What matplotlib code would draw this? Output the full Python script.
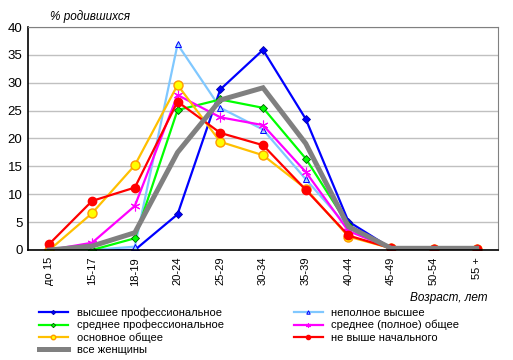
import numpy as np
import matplotlib.pyplot as plt

ages = ['до 15', '15-17', '18-19', '20-24', '25-29', '30-34',
        '35-39', '40-44', '45-49', '50-54', '55 +']

higher_prof = [0, 0, 0, 6.4, 28.8, 35.9, 23.5, 5.1, 0.3, 0.1, 0.1]
incomplete_higher = [0, 0, 0.6, 36.9, 25.5, 21.6, 12.7, 4.0, 0.3, 0.1, 0.1]
secondary_prof = [0, 0, 2.1, 25.1, 27.0, 25.5, 16.4, 4.4, 0.3, 0.1, 0.1]
secondary_full = [0, 1.3, 7.9, 27.8, 23.8, 22.4, 14.0, 3.4, 0.3, 0.1, 0.1]
basic_general = [0, 6.6, 15.2, 29.6, 19.4, 17.0, 11.0, 2.4, 0.3, 0.1, 0.1]
primary_or_less = [1.1, 8.8, 11.2, 26.6, 21.0, 18.8, 10.8, 2.6, 0.3, 0.1, 0.1]
all_women = [0, 0.7, 3.1, 17.5, 26.9, 29.1, 19.1, 4.2, 0.3, 0.3, 0.3]

if __name__ == '__main__':
    plt.rcParams['font.family'] = ['Liberation Sans', 'DejaVu Sans']
    fig = plt.figure(figsize=(5.13, 3.6), dpi=100)
    ax = fig.add_axes([0.0546, 0.3056, 0.9162, 0.6194])
    x = np.arange(len(ages))

    l1, = ax.plot(x, higher_prof, color='#0000ff', lw=1.6, marker='D', ms=4.5,
                  mfc='#0000ff', mec='#0000aa', mew=0.6)
    l2, = ax.plot(x, incomplete_higher, color='#80c8ff', lw=1.6, marker='^', ms=5,
                  mfc='#a0d8ff', mec='#0000ff', mew=0.7)
    l3, = ax.plot(x, secondary_prof, color='#00ff00', lw=1.6, marker='D', ms=4.5,
                  mfc='#00ff00', mec='#006000', mew=0.6)
    l4, = ax.plot(x, secondary_full, color='#ff00ff', lw=1.6, marker=(6, 2, 0), ms=7,
                  mec='#ff00ff', mew=0.8)
    l5, = ax.plot(x, basic_general, color='#ffc000', lw=1.6, marker='o', ms=6.5,
                  mfc='#ffff00', mec='#ff9900', mew=1)
    l6, = ax.plot(x, primary_or_less, color='#ff0000', lw=1.6, marker='o', ms=6,
                  mfc='#ff0000', mec='#ff0000')
    l7, = ax.plot(x, all_women, color='#808080', lw=3.6, solid_joinstyle='miter')

    ax.set_xlim(-0.5, len(ages) - 0.5)
    ax.set_ylim(0, 40)
    ax.set_yticks(np.arange(0, 41, 5))
    ax.set_xticks(x)
    ax.set_xticklabels(ages, rotation=90, fontsize=8)
    ax.tick_params(axis='y', labelsize=9.5, length=0, pad=4)
    ax.tick_params(axis='x', length=0, pad=5)
    ax.grid(axis='y', color='#c0c0c0', lw=1)
    ax.set_axisbelow(True)
    for s in ['top', 'right']:
        ax.spines[s].set_color('#808080')
    for s in ['left', 'bottom']:
        ax.spines[s].set_color('black')
        ax.spines[s].set_linewidth(1.2)

    fig.text(0.097, 0.945, '% родившихся', fontsize=8.5, style='italic')
    fig.text(0.95, 0.163, 'Возраст, лет', fontsize=8.5, style='italic', ha='right')

    handles = [l1, l3, l5, l7, l2, l4, l6]
    labels = ['высшее профессиональное', 'среднее профессиональное',
              'основное общее', 'все женщины',
              'неполное высшее', 'среднее (полное) общее', 'не выше начального']
    leg = fig.legend(handles, labels, ncol=2, loc='upper left',
                     bbox_to_anchor=(0.065, 0.162), frameon=False, fontsize=8,
                     handlelength=2.6, handletextpad=0.8, columnspacing=6.3,
                     labelspacing=0.2, markerscale=0.5, borderpad=0)

    plt.savefig('out.png', dpi=100)
